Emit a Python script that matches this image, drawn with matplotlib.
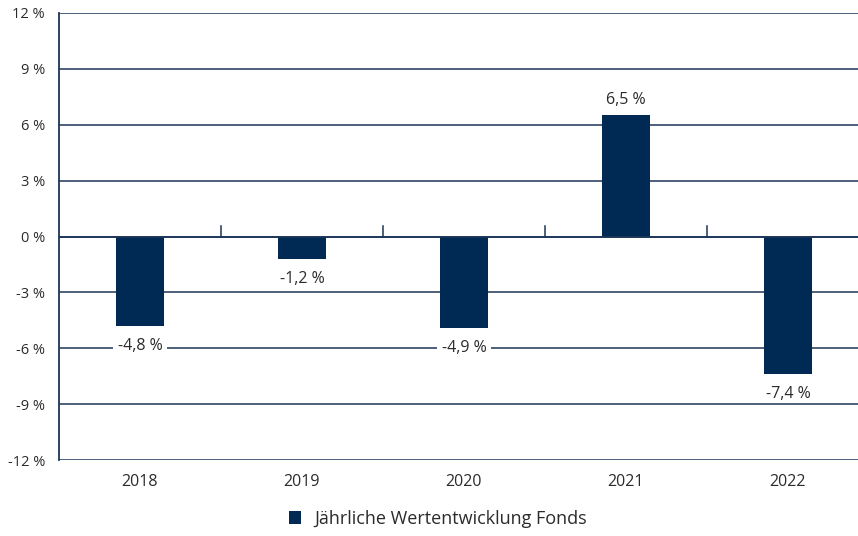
import numpy as np
import matplotlib.pyplot as plt
from matplotlib.patches import Patch

years = ['2018', '2019', '2020', '2021', '2022']
values = [-4.8, -1.2, -4.9, 6.5, -7.4]
yticks = [-12, -9, -6, -3, 0, 3, 6, 9, 12]

navy = '#002a54'
grid = '#1c3557'
txt = '#2b2b2b'

plt.rcParams['font.family'] = ['Open Sans', 'DejaVu Sans']

fig = plt.figure(figsize=(8.58, 5.36), dpi=100)
ax = fig.add_axes([59 / 858, (536 - 460) / 536, 810 / 858, 447 / 536])

x = np.arange(len(years))
ax.bar(x, values, width=0.30, color=navy, zorder=3)

for yv in yticks:
    if yv == 0:
        continue
    ax.axhline(yv, color=grid, lw=1.1, zorder=1)
ax.axhline(0, color=grid, lw=1.4, zorder=4)

# small ticks on zero line between categories
for b in np.arange(0.5, len(years) - 0.5, 1):
    ax.plot([b, b], [0, 0.55], color=grid, lw=1.1, zorder=4)

for xi, v in zip(x, values):
    lab = f'{v:.1f} %'.replace('.', ',')
    if v >= 0:
        ax.text(xi, v + 0.4, lab, ha='center', va='bottom', fontsize=11.5, color=txt, zorder=5)
    else:
        top, bot = v - 0.65, v - 1.45
        # white box only where the label sits on a gridline
        hits = any(bot < t < top for t in yticks)
        box = dict(facecolor='white', edgecolor='none', pad=3.5) if hits else None
        ax.text(xi, top, lab, ha='center', va='top', fontsize=11.5, color=txt, zorder=5,
                bbox=box)

ax.set_xlim(-0.5, len(years) - 0.5)
ax.set_ylim(-12, 12)
ax.set_yticks(yticks)
ax.set_yticklabels([f'{t} %' for t in yticks], fontsize=10.5, color=txt)
ax.set_xticks(x)
ax.set_xticklabels(years, fontsize=11.5, color=txt)
ax.tick_params(axis='both', length=0)
ax.tick_params(axis='y', pad=10)
ax.tick_params(axis='x', pad=10)

for s in ['top', 'right', 'bottom']:
    ax.spines[s].set_visible(False)
ax.spines['left'].set_color(grid)
ax.spines['left'].set_linewidth(1.3)

fig.legend(handles=[Patch(facecolor=navy, edgecolor='none')],
           labels=['Jährliche Wertentwicklung Fonds'],
           loc='center', bbox_to_anchor=(438 / 858, 1 - 519 / 536),
           frameon=False, fontsize=13, handlelength=0.68, handleheight=0.68,
           handletextpad=0.75, labelcolor=txt)

fig.savefig('out.png', dpi=100)
